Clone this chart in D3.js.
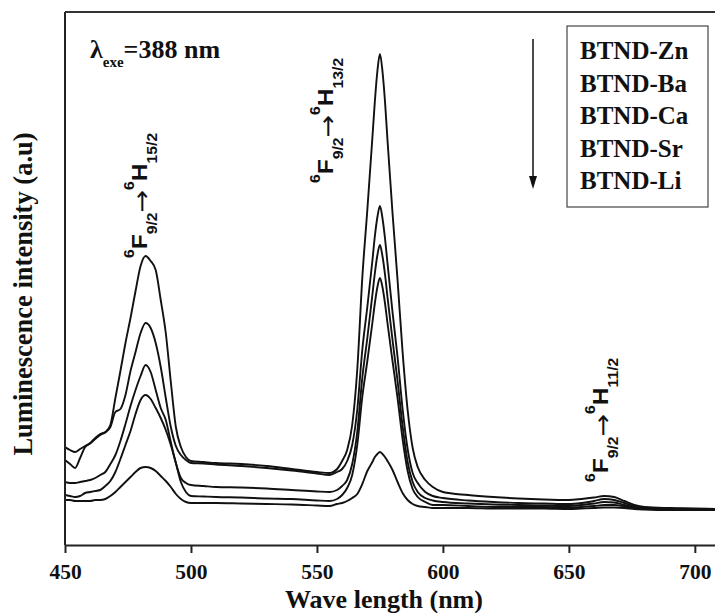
<!DOCTYPE html>
<html>
<head>
<meta charset="utf-8">
<script src="https://cdn.jsdelivr.net/npm/d3@7/dist/d3.min.js"></script>
<style>
  html, body { margin: 0; padding: 0; background: #fff; }
  svg { display: block; }
  .serif { font-family: "Liberation Serif", "Times New Roman", serif; font-weight: bold; }
  .sans { font-family: "Liberation Sans", Arial, sans-serif; font-weight: bold; }
</style>
</head>
<body>
<svg id="chart" width="715" height="613"></svg>
<script>
// Emission spectra (excitation 388 nm), intensity in arbitrary units
const wavelength = [450,452,454,456,458,460,462,464,466,468,470,472,474,476,478,480,482,484,486,488,490,492,494,496,498,500,
  505,510,520,530,540,550,
  555,558,560,562,564,566,568,570,572,573,574,575,576,577,578,580,582,584,586,588,590,593,596,
  600,610,620,630,640,650,655,660,664,668,672,676,680,690,700,708];

const zn = [98,95,93,96,99,102,107,111,113,120,147,174,202,227,254,279,289,284,275,245,212,163,118,98,88,84,
  83,82,81,79,76,73,
  72,76,84,95,120,175,267,335,407,444,474,491,474,444,405,332,265,193,135,97,78,65,58,
  53,50,48,46.5,45.5,45,46,47.5,49,48,44,40,38,37,36.5,36];

const ba = [85,81,77,87,98,101.5,106,110,112.5,118,133,136,150,174,193,212,222,217,202,178,147,118,99,90,85,82,
  81.5,80.5,79,77,74.5,71.5,
  70,73,76,84,100,135,195,238,284,309,328,339,327,307,282,233,188,136,96,72,62,53,49,
  47,44.5,43,42,41.5,41,42,44,46,45,42,39,37.5,36.5,36,36];

const ca = [63,62,62,63,64,65,67,70,73,81,90,104,121,139,155,169,180,173,155,137,125,103,82,67,62,60,
  59,58,57.5,56.5,55,53.5,
  53,55,59,65,81,113,167,207,250,272,290,300,289,271,248,205,164,119,83,63,53,47,44.5,
  43,41.5,40.5,40,39.5,39,40,41.5,43,42.5,40,38,37,36,35.5,35.5];

const sr = [50,49,48,49,52,53,54,55,59,64,73,86,100,114,131,145,150,146,137,127,115,100,82,63,53,49,
  48.5,48,47.5,46.5,46,44.5,
  44,46,50,57,70,100,148,184,222,242,258,267,258,242,222,184,147,106,74,56,48,43,40,
  40,39,38,38,38,37.5,38,39,40,40,38.5,37,36.5,36,35.5,35];

const li = [45,45,44,44,44,44,45,45,46,49,53,58,63,68,73,77,78,77,74,69,64,58,51,46,43,42,
  42,42,41.5,41,40.5,39.5,
  39,41,42,44,47,51,61,74,83,88,91,93,91,88,84,75,63,52,45,41,39,38,37,
  37,37,36.5,36.5,36.5,36,36.5,37,37.5,37.5,37,36,35.5,35,35,35];

const seriesNames = ["BTND-Zn", "BTND-Ba", "BTND-Ca", "BTND-Sr", "BTND-Li"];
const seriesValues = [zn, ba, ca, sr, li];
const xTicks = [450, 500, 550, 600, 650, 700];

// transitions: lower and upper J subscripts
const transitions = [
  { at: 482, lowJ: "9/2", upJ: "15/2" },
  { at: 575, lowJ: "9/2", upJ: "13/2" },
  { at: 664, lowJ: "9/2", upJ: "11/2" }
];

const svg = d3.select("#chart");
const plot = { left: 65, top: 12, right: 715, bottom: 545 };

const x = d3.scaleLinear().domain([450, 708]).range([plot.left, plot.right]);
const y = d3.scaleLinear().domain([0, 533]).range([plot.bottom, plot.top]);

svg.append("defs").append("clipPath").attr("id", "plotClip")
  .append("rect")
  .attr("x", plot.left).attr("y", plot.top)
  .attr("width", plot.right - plot.left).attr("height", plot.bottom - plot.top);

// spectra
const line = d3.line()
  .x((d, i) => x(wavelength[i]))
  .y(d => y(d))
  .curve(d3.curveMonotoneX);

svg.append("g").attr("clip-path", "url(#plotClip)")
  .selectAll("path")
  .data(seriesValues)
  .join("path")
  .attr("d", d => line(d))
  .attr("fill", "none")
  .attr("stroke", "#111")
  .attr("stroke-width", 1.9)
  .attr("stroke-linejoin", "round");

// frame: left and top edges
svg.append("line")
  .attr("x1", plot.left).attr("x2", plot.left)
  .attr("y1", plot.top).attr("y2", plot.bottom)
  .attr("stroke", "#222").attr("stroke-width", 2);
svg.append("line")
  .attr("x1", plot.left).attr("x2", plot.right)
  .attr("y1", plot.top).attr("y2", plot.top)
  .attr("stroke", "#333").attr("stroke-width", 2);

// bottom axis
const xAxis = d3.axisBottom(x)
  .tickValues(xTicks)
  .tickSize(8)
  .tickSizeOuter(0)
  .tickPadding(11);

const gx = svg.append("g")
  .attr("transform", `translate(0,${plot.bottom})`)
  .call(xAxis);
gx.select(".domain").attr("stroke", "#222").attr("stroke-width", 2);
gx.selectAll(".tick line").attr("stroke", "#222").attr("stroke-width", 2);
gx.selectAll(".tick text")
  .attr("class", "serif")
  .attr("font-size", 21.5)
  .attr("fill", "#111");

// axis titles
svg.append("text")
  .attr("class", "serif")
  .attr("x", 384).attr("y", 608)
  .attr("text-anchor", "middle")
  .attr("font-size", 26)
  .attr("fill", "#111")
  .text("Wave length (nm)");

svg.append("text")
  .attr("class", "serif")
  .attr("transform", "translate(32,294) rotate(-90)")
  .attr("text-anchor", "middle")
  .attr("font-size", 26.5)
  .attr("fill", "#111")
  .text("Luminescence intensity (a.u)");

// excitation wavelength note
const ex = svg.append("text")
  .attr("class", "serif")
  .attr("x", 90).attr("y", 58)
  .attr("font-size", 26)
  .attr("fill", "#111");
ex.append("tspan").text("λ");
ex.append("tspan").attr("font-size", 15).attr("dy", 9).text("exe");
ex.append("tspan").attr("dy", -9).text("=388 nm");

// transition labels, rotated
const labelPos = [
  { x: 147, y: 258 },
  { x: 333, y: 183 },
  { x: 608, y: 482 }
];
transitions.forEach((t, i) => {
  const p = labelPos[i];
  const txt = svg.append("text")
    .attr("class", "sans")
    .attr("transform", `translate(${p.x},${p.y}) rotate(-90) scale(1.12,1)`)
    .attr("font-size", 22)
    .attr("fill", "#111");
  txt.append("tspan").attr("font-size", 14).attr("dy", -13).text("6");
  txt.append("tspan").attr("dy", 13).text("F");
  txt.append("tspan").attr("font-size", 14).attr("dy", 10).text(t.lowJ);
  txt.append("tspan")
    .attr("dy", -7)
    .attr("font-family", "'DejaVu Sans', sans-serif")
    .attr("font-weight", "normal")
    .attr("font-size", 24)
    .text("\u2192");
  txt.append("tspan").attr("font-size", 14).attr("dy", -16).text("6");
  txt.append("tspan").attr("dy", 13).text("H");
  txt.append("tspan").attr("font-size", 14).attr("dy", 10).text(t.upJ);
});

// decreasing-intensity arrow
svg.append("line")
  .attr("x1", 533).attr("x2", 533)
  .attr("y1", 39).attr("y2", 178)
  .attr("stroke", "#111").attr("stroke-width", 1.5);
svg.append("path")
  .attr("d", "M529,176 L537,176 L533,189 Z")
  .attr("fill", "#111");

// legend box
const legend = svg.append("g");
legend.append("rect")
  .attr("x", 567).attr("y", 26)
  .attr("width", 141).attr("height", 181)
  .attr("fill", "#fff")
  .attr("stroke", "#444").attr("stroke-width", 1.2);
legend.selectAll("text")
  .data(seriesNames)
  .join("text")
  .attr("class", "serif")
  .attr("x", 580)
  .attr("y", (d, i) => 59 + i * 32.5)
  .attr("font-size", 25)
  .attr("fill", "#111")
  .text(d => d);
</script>
</body>
</html>
